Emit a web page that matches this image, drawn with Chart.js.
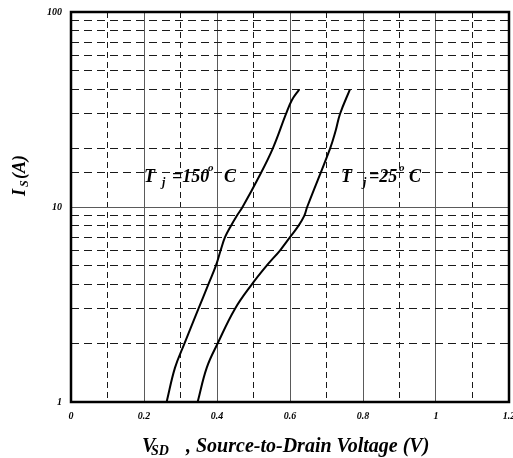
<!DOCTYPE html>
<html>
<head>
<meta charset="utf-8">
<script src="https://cdn.jsdelivr.net/npm/chart.js@4/dist/chart.umd.min.js"></script>
<style>
html,body{margin:0;padding:0;background:#fff;}
#c{display:block;}
</style>
</head>
<body>
<canvas id="c" width="513" height="458"></canvas>
<script>
// ---- data ----
const vsd150 = [0.262, 0.285, 0.311, 0.349, 0.376, 0.397, 0.410, 0.422, 0.438, 0.454, 0.470, 0.515, 0.553, 0.589, 0.605, 0.625];
const is150  = [1,     1.5,   2,     3,     4,     5,     6,     7,     8,     9,     10,    14.3,  20,    30,    35.3,  40];
const vsd25  = [0.347, 0.372, 0.402, 0.449, 0.495, 0.536, 0.573, 0.600, 0.623, 0.639, 0.647, 0.710, 0.725, 0.737, 0.764];
const is25   = [1,     1.5,   2,     3,     4,     5,     6,     7,     8,     9,     10,    20,    24.6,  30,    40];
const xTickLabels = ['0', '0.2', '0.4', '0.6', '0.8', '1', '1.2'];
const yTickLabels = ['1', '10', '100'];

const toPts = (xs, ys) => xs.map((x, i) => ({x: x, y: ys[i]}));

const SERIF = '"Liberation Serif", "DejaVu Serif", serif';
const tickFont = {family: SERIF, size: 10, style: 'italic', weight: 'bold'};

function isMajorX(v){ return Math.abs(v/0.2 - Math.round(v/0.2)) < 1e-6; }
function isDecade(v){ const l = Math.log10(v); return Math.abs(l - Math.round(l)) < 1e-6; }

// segments placed at absolute offsets {text, size, x, y}
function drawAbs(ctx, ox, oy, segs){
  for (const s of segs){
    ctx.font = 'italic bold ' + s.size + 'px ' + SERIF;
    ctx.fillText(s.text, ox + s.x, oy + s.y);
  }
}

const overlay = {
  id: 'overlay',
  afterDraw(chart){
    const ctx = chart.ctx, a = chart.chartArea;
    ctx.save();
    ctx.strokeStyle = '#000';
    ctx.lineWidth = 2.5;
    ctx.strokeRect(a.left, a.top, a.right - a.left, a.bottom - a.top);
    ctx.fillStyle = '#000';
    ctx.textBaseline = 'alphabetic';
    ctx.textAlign = 'left';
    // annotations
    drawAbs(ctx, 0, 0, [
      {text: 'T', size: 18, x: 144, y: 182},
      {text: 'j', size: 12, x: 162, y: 186},
      {text: '=150', size: 18, x: 172, y: 182},
      {text: 'o', size: 11, x: 208, y: 171},
      {text: 'C', size: 18, x: 224, y: 182}
    ]);
    drawAbs(ctx, 0, 0, [
      {text: 'T', size: 18, x: 341, y: 182},
      {text: 'j', size: 12, x: 363, y: 186},
      {text: '=25', size: 18, x: 369, y: 182},
      {text: 'o', size: 11, x: 399, y: 171},
      {text: 'C', size: 18, x: 409, y: 182}
    ]);
    // x axis title
    drawAbs(ctx, 0, 0, [
      {text: 'V', size: 20, x: 142, y: 452},
      {text: 'SD', size: 14, x: 151, y: 455},
      {text: ',', size: 20, x: 186, y: 452},
      {text: 'Source-to-Drain Voltage (V)', size: 20, x: 196, y: 452}
    ]);
    // y axis title (rotated)
    ctx.translate(25, 196);
    ctx.rotate(-Math.PI/2);
    drawAbs(ctx, 0, 0, [
      {text: 'I', size: 18, x: 0, y: 0},
      {text: 'S', size: 12, x: 9, y: 3},
      {text: '(A)', size: 18, x: 17, y: 0}
    ]);
    ctx.restore();
  }
};

new Chart(document.getElementById('c'), {
  type: 'scatter',
  data: {
    datasets: [
      {label: 'Tj=150°C', data: toPts(vsd150, is150), showLine: true, borderColor: '#000', borderWidth: 2, pointRadius: 0, tension: 0.4, fill: false},
      {label: 'Tj=25°C',  data: toPts(vsd25, is25),   showLine: true, borderColor: '#000', borderWidth: 2, pointRadius: 0, tension: 0.4, fill: false}
    ]
  },
  options: {
    responsive: false,
    animation: false,
    devicePixelRatio: 1,
    layout: {padding: {left: 0, right: 4, top: 12, bottom: 0}},
    plugins: {legend: {display: false}, tooltip: {enabled: false}},
    scales: {
      x: {
        type: 'linear', min: 0, max: 1.2,
        afterFit(s){ s.height = 56; s.paddingLeft = 0; s.paddingRight = 0; },
        ticks: {
          stepSize: 0.1, autoSkip: false, maxRotation: 0, padding: 8,
          color: '#000', font: tickFont,
          callback: (v) => isMajorX(v) ? xTickLabels[Math.round(v/0.2)] : ''
        },
        grid: {
          drawTicks: false,
          lineWidth: 1,
          color: (c) => (c.tick && isMajorX(c.tick.value)) ? '#5a5a5a' : '#1a1a1a'
        },
        border: {
          display: false,
          dash: (c) => (c.tick && isMajorX(c.tick.value)) ? [] : [6, 4]
        }
      },
      y: {
        type: 'logarithmic', min: 1, max: 100,
        afterFit(s){ s.width = 71; s.paddingTop = 0; s.paddingBottom = 0; },
        ticks: {
          autoSkip: false, padding: 9, color: '#000', font: tickFont,
          callback: (v) => isDecade(v) ? yTickLabels[Math.round(Math.log10(v))] : ''
        },
        grid: {
          drawTicks: false,
          lineWidth: 1,
          color: (c) => (c.tick && isDecade(c.tick.value)) ? '#5a5a5a' : '#1a1a1a'
        },
        border: {
          display: false,
          dash: (c) => (c.tick && isDecade(c.tick.value)) ? [] : [8, 5]
        }
      }
    }
  },
  plugins: [overlay]
});
</script>
</body>
</html>
